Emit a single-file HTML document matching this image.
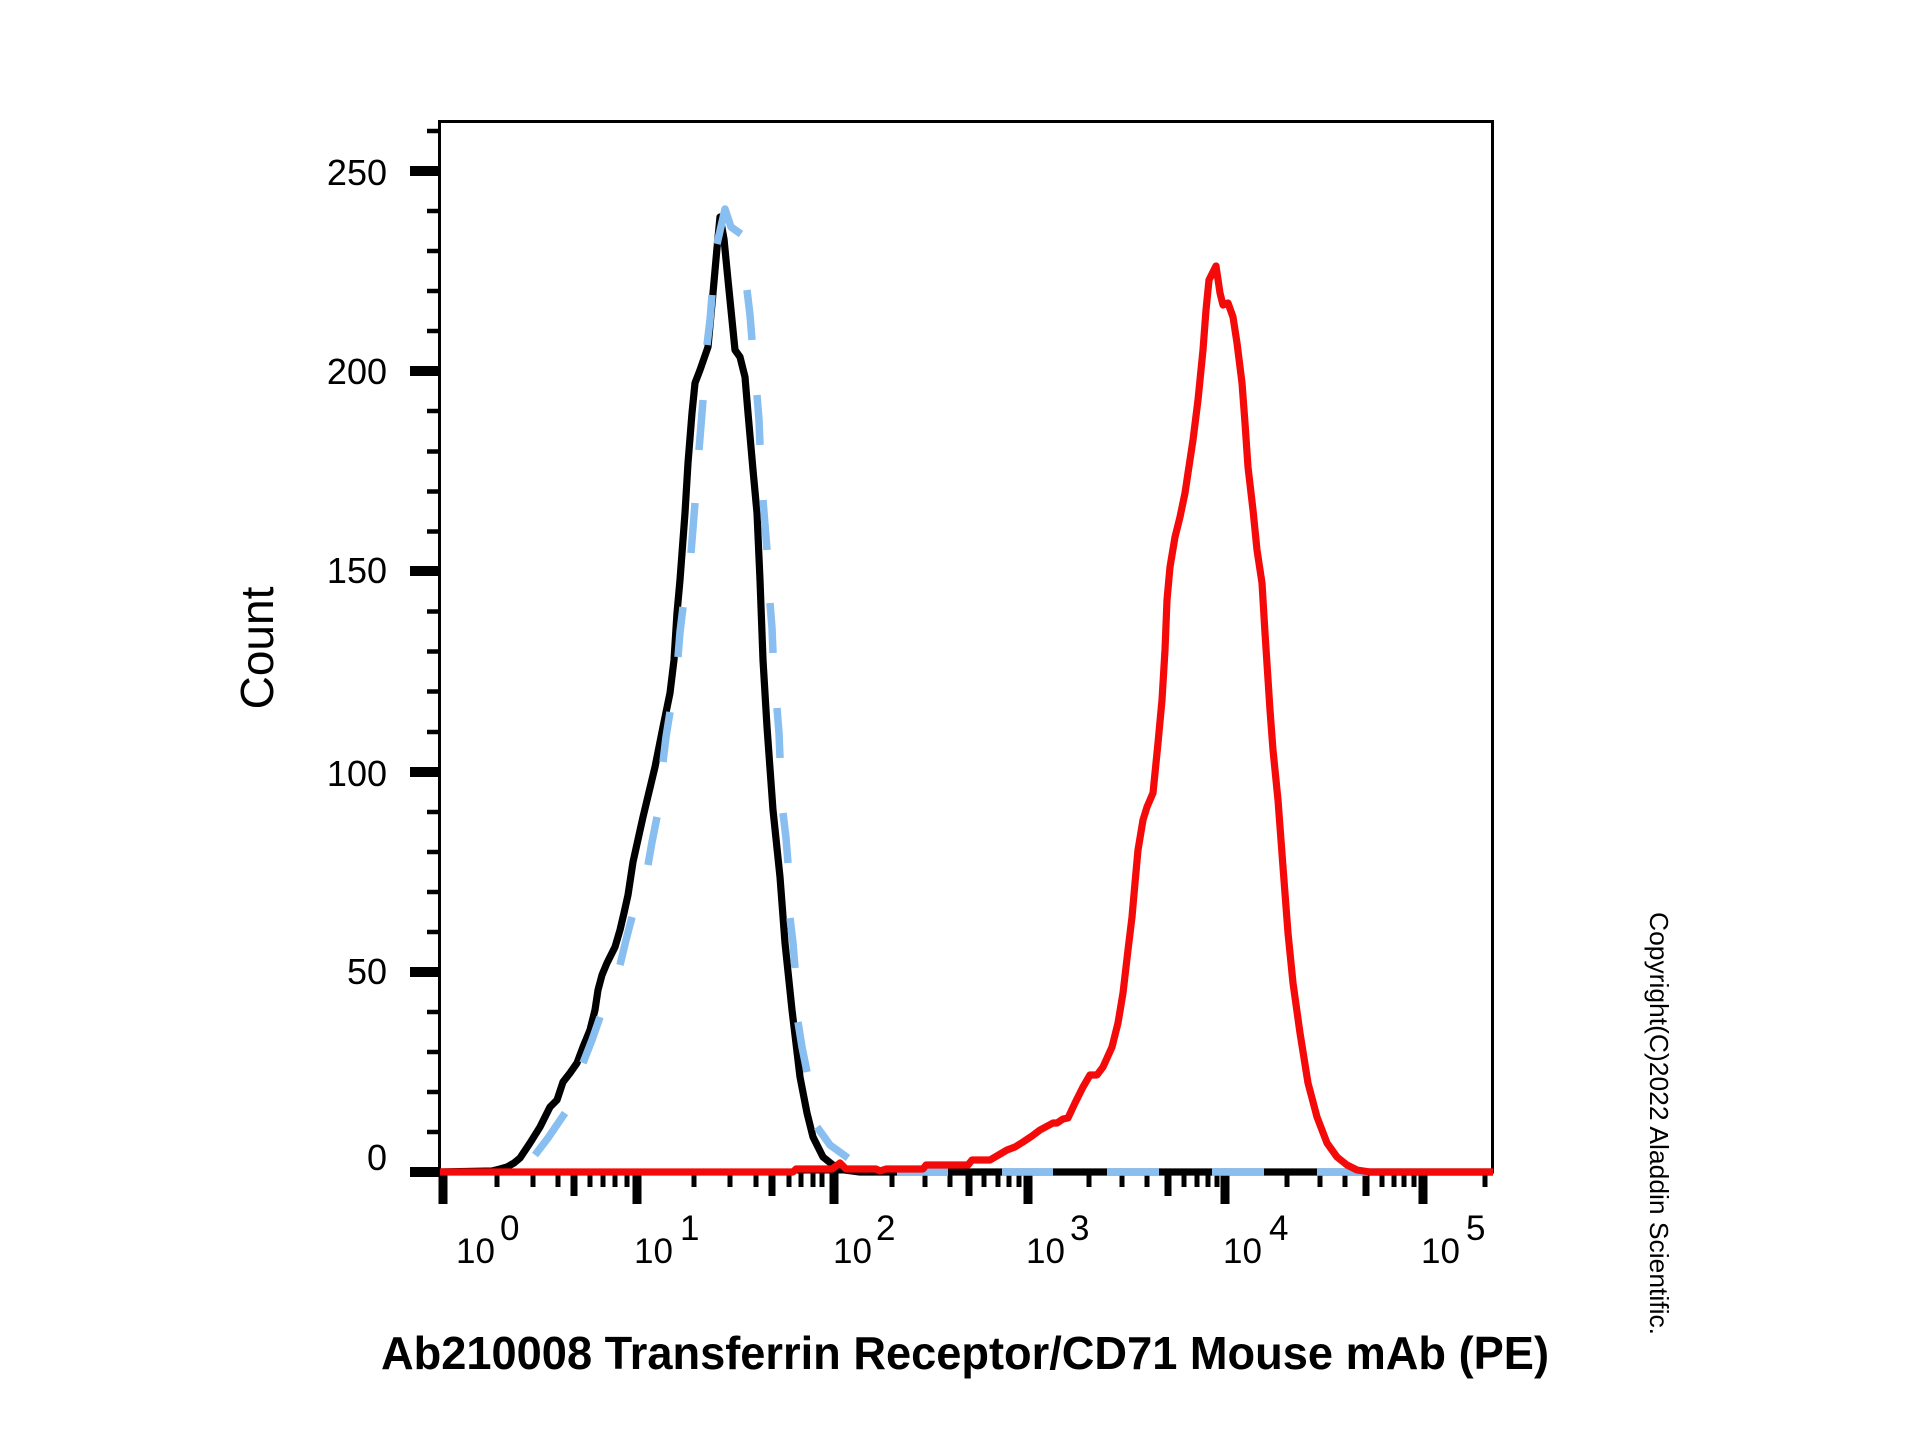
<!DOCTYPE html>
<html>
<head>
<meta charset="utf-8">
<style>
html,body{margin:0;padding:0;background:#fff;}
svg{display:block;}
text{font-family:"Liberation Sans", Arial, sans-serif;fill:#000;}
</style>
</head>
<body>
<svg width="1920" height="1440" viewBox="0 0 1920 1440" xmlns="http://www.w3.org/2000/svg">
<rect x="0" y="0" width="1920" height="1440" fill="#fff"/>

<!-- frame -->
<rect x="439.5" y="121.5" width="1053" height="1050.5" fill="none" stroke="#000" stroke-width="3"/>

<!-- Y major ticks -->
<g stroke="#000" stroke-width="10">
<line x1="410" y1="1172" x2="440" y2="1172"/>
<line x1="410" y1="972" x2="440" y2="972"/>
<line x1="410" y1="772" x2="440" y2="772"/>
<line x1="410" y1="571" x2="440" y2="571"/>
<line x1="410" y1="371" x2="440" y2="371"/>
<line x1="410" y1="171" x2="440" y2="171"/>
</g>
<!-- Y minor ticks -->
<g stroke="#000" stroke-width="4.5">
<line x1="427" y1="1132" x2="440" y2="1132"/>
<line x1="427" y1="1092" x2="440" y2="1092"/>
<line x1="427" y1="1052" x2="440" y2="1052"/>
<line x1="427" y1="1012" x2="440" y2="1012"/>
<line x1="427" y1="932" x2="440" y2="932"/>
<line x1="427" y1="892" x2="440" y2="892"/>
<line x1="427" y1="852" x2="440" y2="852"/>
<line x1="427" y1="812" x2="440" y2="812"/>
<line x1="427" y1="732" x2="440" y2="732"/>
<line x1="427" y1="691.5" x2="440" y2="691.5"/>
<line x1="427" y1="651.5" x2="440" y2="651.5"/>
<line x1="427" y1="611.5" x2="440" y2="611.5"/>
<line x1="427" y1="531.5" x2="440" y2="531.5"/>
<line x1="427" y1="491.5" x2="440" y2="491.5"/>
<line x1="427" y1="451.5" x2="440" y2="451.5"/>
<line x1="427" y1="411" x2="440" y2="411"/>
<line x1="427" y1="331" x2="440" y2="331"/>
<line x1="427" y1="291" x2="440" y2="291"/>
<line x1="427" y1="251" x2="440" y2="251"/>
<line x1="427" y1="211" x2="440" y2="211"/>
<line x1="427" y1="131" x2="440" y2="131"/>
</g>

<!-- Y labels -->
<g font-size="36" text-anchor="end">
<text x="387" y="185">250</text>
<text x="387" y="384">200</text>
<text x="387" y="583">150</text>
<text x="387" y="786">100</text>
<text x="387" y="984">50</text>
<text x="387" y="1170">0</text>
</g>

<!-- X major ticks -->
<g stroke="#000" stroke-width="9">
<line x1="443" y1="1170" x2="443" y2="1204"/>
<line x1="637" y1="1170" x2="637" y2="1204"/>
<line x1="834" y1="1170" x2="834" y2="1204"/>
<line x1="1028" y1="1170" x2="1028" y2="1204"/>
<line x1="1225" y1="1170" x2="1225" y2="1204"/>
<line x1="1423" y1="1170" x2="1423" y2="1204"/>
</g>
<!-- X mid ticks (5x) -->
<g stroke="#000" stroke-width="7">
<line x1="574" y1="1170" x2="574" y2="1196"/>
<line x1="772" y1="1170" x2="772" y2="1196"/>
<line x1="969" y1="1170" x2="969" y2="1196"/>
<line x1="1168" y1="1170" x2="1168" y2="1196"/>
<line x1="1366" y1="1170" x2="1366" y2="1196"/>
</g>
<!-- X minor ticks -->
<g stroke="#000" stroke-width="5">
<line x1="497" y1="1170" x2="497" y2="1187"/>
<line x1="533" y1="1170" x2="533" y2="1187"/>
<line x1="558" y1="1170" x2="558" y2="1187"/>
<line x1="590" y1="1170" x2="590" y2="1187"/>
<line x1="603" y1="1170" x2="603" y2="1187"/>
<line x1="615" y1="1170" x2="615" y2="1187"/>
<line x1="627" y1="1170" x2="627" y2="1187"/>

<line x1="694" y1="1170" x2="694" y2="1187"/>
<line x1="730" y1="1170" x2="730" y2="1187"/>
<line x1="756" y1="1170" x2="756" y2="1187"/>
<line x1="789" y1="1170" x2="789" y2="1187"/>
<line x1="801" y1="1170" x2="801" y2="1187"/>
<line x1="813" y1="1170" x2="813" y2="1187"/>
<line x1="822" y1="1170" x2="822" y2="1187"/>

<line x1="892" y1="1170" x2="892" y2="1187"/>
<line x1="925" y1="1170" x2="925" y2="1187"/>
<line x1="950" y1="1170" x2="950" y2="1187"/>
<line x1="984" y1="1170" x2="984" y2="1187"/>
<line x1="998" y1="1170" x2="998" y2="1187"/>
<line x1="1009" y1="1170" x2="1009" y2="1187"/>
<line x1="1019" y1="1170" x2="1019" y2="1187"/>

<line x1="1089" y1="1170" x2="1089" y2="1187"/>
<line x1="1122" y1="1170" x2="1122" y2="1187"/>
<line x1="1147" y1="1170" x2="1147" y2="1187"/>
<line x1="1184" y1="1170" x2="1184" y2="1187"/>
<line x1="1197" y1="1170" x2="1197" y2="1187"/>
<line x1="1208" y1="1170" x2="1208" y2="1187"/>
<line x1="1217" y1="1170" x2="1217" y2="1187"/>

<line x1="1287" y1="1170" x2="1287" y2="1187"/>
<line x1="1320" y1="1170" x2="1320" y2="1187"/>
<line x1="1345" y1="1170" x2="1345" y2="1187"/>
<line x1="1382" y1="1170" x2="1382" y2="1187"/>
<line x1="1394" y1="1170" x2="1394" y2="1187"/>
<line x1="1404" y1="1170" x2="1404" y2="1187"/>
<line x1="1414" y1="1170" x2="1414" y2="1187"/>

<line x1="1485" y1="1170" x2="1485" y2="1187"/>
</g>

<!-- X labels -->
<g font-size="35">
<text x="456" y="1263">10</text><text x="500" y="1240">0</text>
<text x="634" y="1263">10</text><text x="680" y="1240">1</text>
<text x="833" y="1263">10</text><text x="876" y="1240">2</text>
<text x="1026" y="1263">10</text><text x="1070" y="1240">3</text>
<text x="1223" y="1263">10</text><text x="1269" y="1240">4</text>
<text x="1421" y="1263">10</text><text x="1466" y="1240">5</text>
</g>

<!-- Black curve -->
<path fill="none" stroke="#000" stroke-width="7.2" stroke-linejoin="round" d="M440,1172 L492,1171 L500,1169 L507,1167 L514,1163 L520,1158 L530,1143 L540,1127 L550,1107 L557,1100 L563,1082 L570,1073 L577,1063 L583,1047 L590,1030 L595,1010 L598,990 L602,975 L607,963 L615,947 L620,930 L624,913 L628,895 L633,862 L643,817 L655,767 L663,727 L670,693 L674,660 L677,613 L680,580 L685,513 L688,463 L692,413 L695,383 L700,370 L708,347 L713,293 L717,248 L720,217 L724,239 L728,280 L732,320 L735,350 L740,357 L745,377 L748,413 L753,470 L757,513 L760,580 L763,660 L767,727 L773,810 L780,877 L785,943 L792,1010 L800,1077 L807,1113 L813,1137 L823,1157 L833,1165 L845,1170 L860,1172 L1493,1172"/>

<!-- Blue dashed curve (as dash segments) -->
<g fill="none" stroke="#88BEF0" stroke-width="7.5" stroke-linecap="butt" stroke-linejoin="round">
<polyline points="535,1155 548,1138 565,1113"/>
<polyline points="583,1063 592,1040 600,1017"/>
<polyline points="620,965 626,940 632,917"/>
<polyline points="657,817 652,842 648,865"/>
<polyline points="670,712 666,737 663,762"/>
<polyline points="683,607 680,632 678,657"/>
<polyline points="695,503 693,528 691,553"/>
<polyline points="703,400 701,425 699,450"/>
<polyline points="712,295 710,320 707,345"/>
<polyline points="717,244 725,209 731,227 741,234"/>
<polyline points="747,290 750,315 752,340"/>
<polyline points="757,395 759,420 760,445"/>
<polyline points="763,500 765,525 767,550"/>
<polyline points="770,603 772,628 773,653"/>
<polyline points="777,708 779,733 780,758"/>
<polyline points="783,813 786,838 788,863"/>
<polyline points="790,918 793,943 795,968"/>
<polyline points="798,1022 802,1047 807,1072"/>
<polyline points="817,1127 830,1145 848,1158"/>
<line x1="897" y1="1172" x2="948" y2="1172"/>
<line x1="1002" y1="1172" x2="1053" y2="1172"/>
<line x1="1107" y1="1172" x2="1159" y2="1172"/>
<line x1="1212" y1="1172" x2="1264" y2="1172"/>
<line x1="1317" y1="1172" x2="1368" y2="1172"/>
</g>

<!-- Red curve -->
<path fill="none" stroke="#F50A0A" stroke-width="7.2" stroke-linejoin="round" d="M440,1172 L793,1172 L796,1169 L832,1169 L840,1163 L846,1169 L876,1169 L880,1171 L886,1169 L923,1169 L926,1165 L968,1165 L972,1160 L990,1160 L1007,1150 L1015,1147 L1023,1142 L1032,1136 L1040,1130 L1053,1123 L1057,1123 L1063,1119 L1068,1118 L1075,1103 L1083,1087 L1090,1075 L1097,1075 L1103,1067 L1112,1047 L1118,1023 L1123,993 L1128,950 L1132,917 L1135,883 L1138,850 L1143,820 L1147,807 L1153,793 L1158,743 L1162,700 L1165,650 L1167,600 L1170,567 L1175,537 L1180,517 L1185,493 L1188,473 L1193,440 L1198,400 L1203,350 L1206,310 L1209,280 L1216,266 L1220,293 L1223,305 L1228,303 L1233,317 L1237,343 L1242,383 L1245,423 L1248,467 L1253,510 L1257,550 L1262,583 L1265,633 L1270,710 L1273,750 L1278,800 L1283,867 L1288,933 L1293,983 L1300,1033 L1308,1083 L1317,1117 L1327,1143 L1337,1157 L1347,1165 L1357,1170 L1370,1172 L1493,1172"/>

<!-- Axis titles -->
<text x="0" y="0" font-size="46" text-anchor="middle" transform="translate(273,648) rotate(-90)">Count</text>
<text x="381" y="1369" font-size="46" font-weight="bold" textLength="1168" lengthAdjust="spacingAndGlyphs">Ab210008 Transferrin Receptor/CD71 Mouse mAb (PE)</text>

<!-- Copyright -->
<text x="0" y="0" font-size="26" textLength="423" lengthAdjust="spacingAndGlyphs" transform="translate(1650,912) rotate(90)">Copyright(C)2022 Aladdin Scientific.</text>
</svg>
</body>
</html>
